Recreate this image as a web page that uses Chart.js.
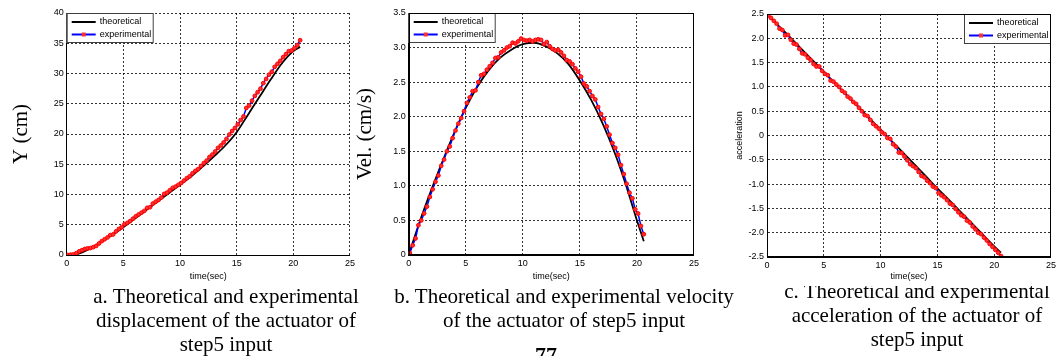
<!DOCTYPE html>
<html>
<head>
<meta charset="utf-8">
<script src="https://cdn.jsdelivr.net/npm/chart.js@4.4.0/dist/chart.umd.min.js"></script>
<style>
  body { margin: 0; width: 1057px; height: 356px; overflow: hidden; background: #fff; position: relative; }
  .panel { position: absolute; top: 0; }
  .cap { position: absolute; font-family: 'Liberation Serif', 'Times New Roman', serif; font-size: 21px; line-height: 24px; text-align: center; color: #000; white-space: nowrap; }
  .clip { position: absolute; overflow: hidden; }
</style>
</head>
<body>
<div class="panel" style="left:0px"><canvas id="chartA" width="358" height="285"></canvas></div>
<div class="panel" style="left:350px"><canvas id="chartB" width="352" height="285"></canvas></div>
<div class="panel" style="left:700px"><canvas id="chartC" width="359" height="285"></canvas></div>

<div class="cap" style="left:26px;top:284px;width:400px">a. Theoretical and experimental<br>displacement of the actuator of<br>step5 input</div>
<div class="cap" style="left:364px;top:284px;width:400px">b. Theoretical and experimental velocity<br>of the actuator of step5 input</div>
<div class="clip" style="left:717px;top:286px;width:400px;height:66px">
  <div class="cap" style="left:0;top:-7px;width:400px">c. Theoretical and experimental<br>acceleration of the actuator of<br>step5 input</div>
</div>
<div class="cap" style="left:516px;top:344px;width:60px;font-weight:bold;font-size:22px;line-height:22px">77</div>

<script>
// time axis (sec) for the theoretical curves and for the measured samples
const tTheo = [0, 1, 2, 3, 4, 5, 6, 7, 8, 9, 10, 11, 12, 13, 14, 15, 16, 17, 18, 19, 20, 20.6];
const tExp = [0.1, 0.35, 0.6, 0.85, 1.1, 1.35, 1.6, 1.85, 2.1, 2.35, 2.6, 2.85, 3.1, 3.35, 3.6, 3.85,
  4.1, 4.35, 4.6, 4.85, 5.1, 5.35, 5.6, 5.85, 6.1, 6.35, 6.6, 6.85, 7.1, 7.35, 7.6, 7.85,
  8.1, 8.35, 8.6, 8.85, 9.1, 9.35, 9.6, 9.85, 10.1, 10.35, 10.6, 10.85, 11.1, 11.35, 11.6, 11.85,
  12.1, 12.35, 12.6, 12.85, 13.1, 13.35, 13.6, 13.85, 14.1, 14.35, 14.6, 14.85, 15.1, 15.35, 15.6, 15.85,
  16.1, 16.35, 16.6, 16.85, 17.1, 17.35, 17.6, 17.85, 18.1, 18.35, 18.6, 18.85, 19.1, 19.35, 19.6, 19.85,
  20.1, 20.35, 20.6];

// a. displacement (cm)
const dispTheo = [0, 0.2, 1.0, 2.1, 3.3, 4.6, 6.0, 7.4, 8.8, 10.2, 11.6, 13.0, 14.6, 16.3, 18.1, 20.3, 23.2, 26.1, 29.0, 31.7, 33.7, 34.4];
const dispExp = [0.0, 0.05, 0.1, 0.3, 0.6, 0.8, 1.0, 1.1, 1.15, 1.3, 1.5, 1.9, 2.3, 2.6, 2.9, 3.3,
  3.4, 3.9, 4.3, 4.6, 5.1, 5.3, 5.6, 6.0, 6.4, 6.7, 7.0, 7.3, 7.8, 7.9, 8.5, 8.8,
  9.1, 9.5, 10.1, 10.3, 10.7, 11.1, 11.3, 11.6, 11.9, 12.3, 12.7, 13.0, 13.5, 13.9, 14.2, 14.7,
  15.2, 15.6, 16.2, 16.6, 17.1, 17.7, 18.1, 18.6, 19.2, 19.9, 20.5, 21.0, 21.6, 22.3, 22.9, 24.3,
  24.7, 25.5, 26.3, 26.9, 27.5, 28.4, 29.1, 29.8, 30.3, 31.1, 31.6, 32.1, 32.7, 33.2, 33.7, 33.8,
  34.2, 34.7, 35.5];

// b. velocity (cm/s)
const velTheo = [0, 0.5, 0.95, 1.37, 1.77, 2.13, 2.43, 2.67, 2.85, 2.97, 3.05, 3.07, 3.02, 2.92, 2.76, 2.52, 2.24, 1.9, 1.5, 1.03, 0.5, 0.2];
const velExp = [0.03, 0.14, 0.24, 0.43, 0.5, 0.6, 0.7, 0.84, 0.95, 1.06, 1.15, 1.29, 1.38, 1.5, 1.57, 1.69,
  1.8, 1.9, 1.98, 2.08, 2.2, 2.28, 2.37, 2.38, 2.5, 2.6, 2.62, 2.68, 2.73, 2.78, 2.85, 2.86,
  2.93, 2.96, 3.0, 3.02, 3.07, 3.06, 3.09, 3.13, 3.11, 3.1, 3.11, 3.09, 3.11, 3.12, 3.11, 3.05,
  3.08, 3.02, 2.98, 2.96, 2.97, 2.93, 2.88, 2.82, 2.8, 2.76, 2.7, 2.65, 2.58, 2.48, 2.44, 2.37,
  2.3, 2.25, 2.14, 2.04, 1.97, 1.86, 1.74, 1.62, 1.55, 1.45, 1.3, 1.17, 1.03, 0.9, 0.82, 0.66,
  0.6, 0.42, 0.3];

// c. acceleration
const accTheo = [2.5, 2.26, 2.03, 1.79, 1.55, 1.31, 1.07, 0.83, 0.6, 0.36, 0.12, -0.12, -0.36, -0.6, -0.84, -1.09, -1.32, -1.56, -1.8, -2.04, -2.28, -2.41];
const accExp = [2.47, 2.42, 2.36, 2.3, 2.2, 2.17, 2.06, 2.07, 1.97, 1.89, 1.87, 1.78, 1.69, 1.67, 1.6, 1.55,
  1.47, 1.42, 1.42, 1.33, 1.27, 1.24, 1.13, 1.11, 1.05, 1.0, 0.92, 0.88, 0.8, 0.76, 0.69, 0.65,
  0.57, 0.5, 0.42, 0.4, 0.32, 0.24, 0.19, 0.14, 0.07, 0.03, -0.05, -0.07, -0.18, -0.23, -0.35, -0.36,
  -0.43, -0.51, -0.59, -0.63, -0.67, -0.75, -0.83, -0.86, -0.93, -0.98, -1.05, -1.08, -1.18, -1.23, -1.27, -1.33,
  -1.4, -1.43, -1.51, -1.58, -1.64, -1.67, -1.75, -1.79, -1.87, -1.93, -2.0, -2.03, -2.1, -2.16, -2.23, -2.29,
  -2.35, -2.41, -2.48];

const seriesNames = ['theoretical', 'experimental'];

Chart.defaults.font.family = "'Liberation Sans', Arial, sans-serif";
Chart.defaults.font.size = 9;
Chart.defaults.color = '#000';

// MATLAB-like legend box drawn inside the axes
const innerLegend = {
  id: 'innerLegend',
  afterDatasetsDraw(chart, args, opts) {
    const { ctx, chartArea } = chart;
    const w = 87, h = 30;
    const x = opts.side === 'right' ? chartArea.right - w : chartArea.left;
    const y = chartArea.top;
    ctx.save();
    ctx.fillStyle = '#fff';
    ctx.fillRect(x, y, w, h);
    ctx.strokeStyle = '#404040';
    ctx.lineWidth = 1;
    ctx.strokeRect(x + 0.5, y + 0.5, w - 1, h - 1);
    ctx.font = "9px 'Liberation Sans', Arial, sans-serif";
    ctx.textBaseline = 'middle';
    const ds = chart.data.datasets;
    const order = [1, 0]; // theoretical first, experimental second
    order.forEach((di, row) => {
      const d = ds[di];
      const ry = y + 9 + row * 12.5;
      ctx.strokeStyle = d.borderColor;
      ctx.lineWidth = 2;
      ctx.beginPath();
      ctx.moveTo(x + 5, ry);
      ctx.lineTo(x + 29, ry);
      ctx.stroke();
      if (d.pointRadius > 0) {
        ctx.fillStyle = d.pointBackgroundColor;
        ctx.fillRect(x + 15, ry - 2, 4, 4);
      }
      ctx.fillStyle = '#000';
      ctx.fillText(d.label, x + 33, ry);
    });
    ctx.restore();
  }
};

// solid box round the plot area
const axesBox = {
  id: 'axesBox',
  afterDraw(chart, args, opts) {
    if (!opts.show) return;
    const { ctx, chartArea } = chart;
    ctx.save();
    ctx.strokeStyle = '#000';
    ctx.lineWidth = 1;
    ctx.strokeRect(Math.round(chartArea.left) + 0.5, Math.round(chartArea.top) + 0.5,
      Math.round(chartArea.right - chartArea.left) - 1, Math.round(chartArea.bottom - chartArea.top) - 1);
    ctx.restore();
  }
};

function toPoints(xs, ys) {
  return xs.map((x, i) => ({ x: x, y: ys[i] }));
}

function makeChart(id, cfg) {
  return new Chart(document.getElementById(id), {
    type: 'line',
    data: {
      datasets: [
        {
          label: seriesNames[1],
          data: toPoints(tExp, cfg.exp),
          borderColor: '#0000ff',
          borderWidth: 1.5,
          pointRadius: 1.9,
          pointStyle: 'circle',
          pointBorderColor: '#ff0000',
          pointBackgroundColor: '#ff3030',
          pointBorderWidth: 1,
          tension: 0,
          order: 0
        },
        {
          label: seriesNames[0],
          data: toPoints(tTheo, cfg.theo),
          borderColor: '#000000',
          borderWidth: 1.8,
          pointRadius: 0,
          cubicInterpolationMode: 'monotone',
          order: 1
        }
      ]
    },
    options: {
      responsive: false,
      animation: false,
      events: [],
      layout: { padding: { top: cfg.top, right: cfg.right, left: 0, bottom: 0 } },
      plugins: {
        legend: { display: false },
        tooltip: { enabled: false },
        innerLegend: { side: cfg.legendSide },
        axesBox: { show: cfg.box }
      },
      scales: {
        x: {
          type: 'linear',
          min: 0,
          max: 25,
          ticks: { stepSize: 5, padding: 3, maxRotation: 0 },
          grid: { color: 'rgba(0,0,0,0.8)', drawTicks: false, lineWidth: 1 },
          border: { display: true, color: '#000', width: 1, dash: [2, 2] },
          title: { display: true, text: 'time(sec)', font: { size: 9 }, padding: { top: 0, bottom: 2.6 } },
          afterFit: (scale) => { scale.height = cfg.xh; }
        },
        y: {
          min: cfg.ymin,
          max: cfg.ymax,
          ticks: { stepSize: cfg.ystep, padding: 3 },
          grid: { color: 'rgba(0,0,0,0.8)', drawTicks: false, lineWidth: 1 },
          border: { display: true, color: '#000', width: 1, dash: [2, 2] },
          title: { display: true, text: cfg.ytitle, font: cfg.yfont, padding: { top: cfg.ypad, bottom: 0 } },
          afterFit: (scale) => { scale.width = cfg.yw; }
        }
      }
    },
    plugins: [innerLegend, axesBox]
  });
}

const serif = "'Liberation Serif', 'Times New Roman', serif";

makeChart('chartA', {
  theo: dispTheo, exp: dispExp, ymin: 0, ymax: 40, ystep: 5,
  ytitle: 'Y (cm)', yfont: { family: serif, size: 21 }, ypad: 8.4,
  yw: 66.7, xh: 30, top: 13, right: 5, legendSide: 'left', box: false
});

makeChart('chartB', {
  theo: velTheo, exp: velExp, ymin: 0, ymax: 3.5, ystep: 0.5,
  ytitle: 'Vel. (cm/s)', yfont: { family: serif, size: 21 }, ypad: 2.4,
  yw: 58.7, xh: 30, top: 13, right: 7, legendSide: 'left', box: true
});

makeChart('chartC', {
  theo: accTheo, exp: accExp, ymin: -2.5, ymax: 2.5, ystep: 0.5,
  ytitle: 'acceleration', yfont: { size: 9 }, ypad: 34.6,
  yw: 67, xh: 28, top: 14, right: 5, legendSide: 'right', box: true
});
</script>
</body>
</html>
